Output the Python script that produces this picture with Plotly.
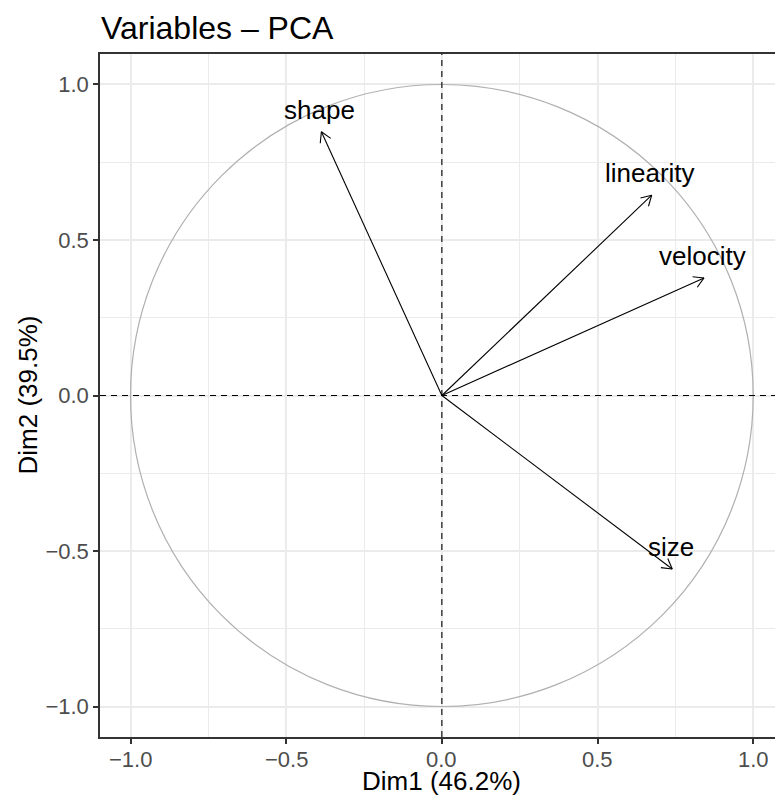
import numpy as np
import plotly.graph_objects as go

# ---- data ----
variables = ["shape", "linearity", "velocity", "size"]
dim1 = [-0.387, 0.674, 0.842, 0.740]
dim2 = [0.848, 0.644, 0.378, -0.558]
tick_vals = [-1.0, -0.5, 0.0, 0.5, 1.0]
minor_vals = [-0.75, -0.25, 0.25, 0.75]
x_title = "Dim1 (46.2%)"
y_title = "Dim2 (39.5%)"
plot_title = "Variables – PCA"

FONT = "Liberation Sans, Arial, Helvetica, sans-serif"
PX_PER_UNIT = 311.3
HEAD_LEN = 11.5 / PX_PER_UNIT
HEAD_ANG = np.deg2rad(30)


def fmt(v):
    return f"{v:.1f}".replace("-", "\u2212")


fig = go.Figure()

# correlation circle
fig.add_shape(type="circle", xref="x", yref="y", x0=-1, y0=-1, x1=1, y1=1,
              line=dict(color="#B0B0B0", width=1.2), layer="above")
# dashed zero lines
fig.add_shape(type="line", xref="x", yref="paper", x0=0, x1=0, y0=0, y1=1,
              line=dict(color="black", width=1.1, dash="6px,5px"), layer="above")
fig.add_shape(type="line", xref="paper", yref="y", x0=0, x1=1, y0=0, y1=0,
              line=dict(color="black", width=1.1, dash="6px,5px"), layer="above")

# arrows (shafts + open heads)
xs, ys = [], []
for x, y in zip(dim1, dim2):
    xs += [0, x, None]
    ys += [0, y, None]
    ang = np.arctan2(y, x)
    for s in (1, -1):
        a = ang + np.pi + s * HEAD_ANG
        xs += [x + HEAD_LEN * np.cos(a), x, None]
        ys += [y + HEAD_LEN * np.sin(a), y, None]
fig.add_trace(go.Scatter(x=xs, y=ys, mode="lines",
                         line=dict(color="black", width=1.1),
                         hoverinfo="skip", showlegend=False))

# variable labels
for name, x, y in zip(variables, dim1, dim2):
    fig.add_annotation(x=x, y=y, xref="x", yref="y", text=name, showarrow=False,
                       xanchor="center", yanchor="bottom", xshift=-1.5, yshift=5,
                       font=dict(family=FONT, size=26, color="black"))

# x tick labels (placed through the x axis scale)
for v in tick_vals:
    fig.add_annotation(x=v, y=0, xref="x", yref="paper", text=fmt(v),
                       showarrow=False, xanchor="center", yanchor="top",
                       yshift=-9, borderpad=0,
                       font=dict(family=FONT, size=22, color="#4D4D4D"))

# title
fig.add_annotation(x=0, y=1, xref="paper", yref="paper", text=plot_title,
                   showarrow=False, xanchor="left", yanchor="bottom",
                   xshift=-1, yshift=6,
                   font=dict(family=FONT, size=32, color="black"))
# axis titles
fig.add_annotation(x=0, y=0, xref="x", yref="paper", text=x_title,
                   showarrow=False, xanchor="center", yanchor="top", yshift=-28,
                   borderpad=0,
                   font=dict(family=FONT, size=26, color="black"))
fig.add_annotation(x=0, y=0.5, xref="paper", yref="paper", text=y_title,
                   showarrow=False, xanchor="center", yanchor="middle",
                   textangle=-90, xshift=-73,
                   font=dict(family=FONT, size=26, color="black"))

axis_common = dict(
    automargin=False,
    showline=True, linecolor="#333333", linewidth=1.5,
    ticks="outside", ticklen=5, tickcolor="#333333", tickwidth=1.5,
    tickvals=tick_vals, tickformat=".1f",
    tickfont=dict(family=FONT, size=22, color="#4D4D4D"),
    showgrid=True, gridcolor="#EBEBEB", gridwidth=1.5,
    zeroline=False,
    minor=dict(tickvals=minor_vals, showgrid=True, gridcolor="#EBEBEB",
               gridwidth=0.8, ticks=""),
)

fig.update_layout(
    width=775, height=803,
    margin=dict(l=100, r=0, t=54, b=66, autoexpand=False),
    paper_bgcolor="white", plot_bgcolor="white",
    showlegend=False,
    xaxis=dict(range=[-1.098, 1.07], mirror=True, showticklabels=False,
               **axis_common),
    yaxis=dict(range=[-1.098, 1.098], mirror=False, **axis_common),
)

fig.write_html(
    "out.html",
    config={"displayModeBar": False},
    post_script="document.body.style.margin='0';document.body.style.overflow='hidden';",
)
